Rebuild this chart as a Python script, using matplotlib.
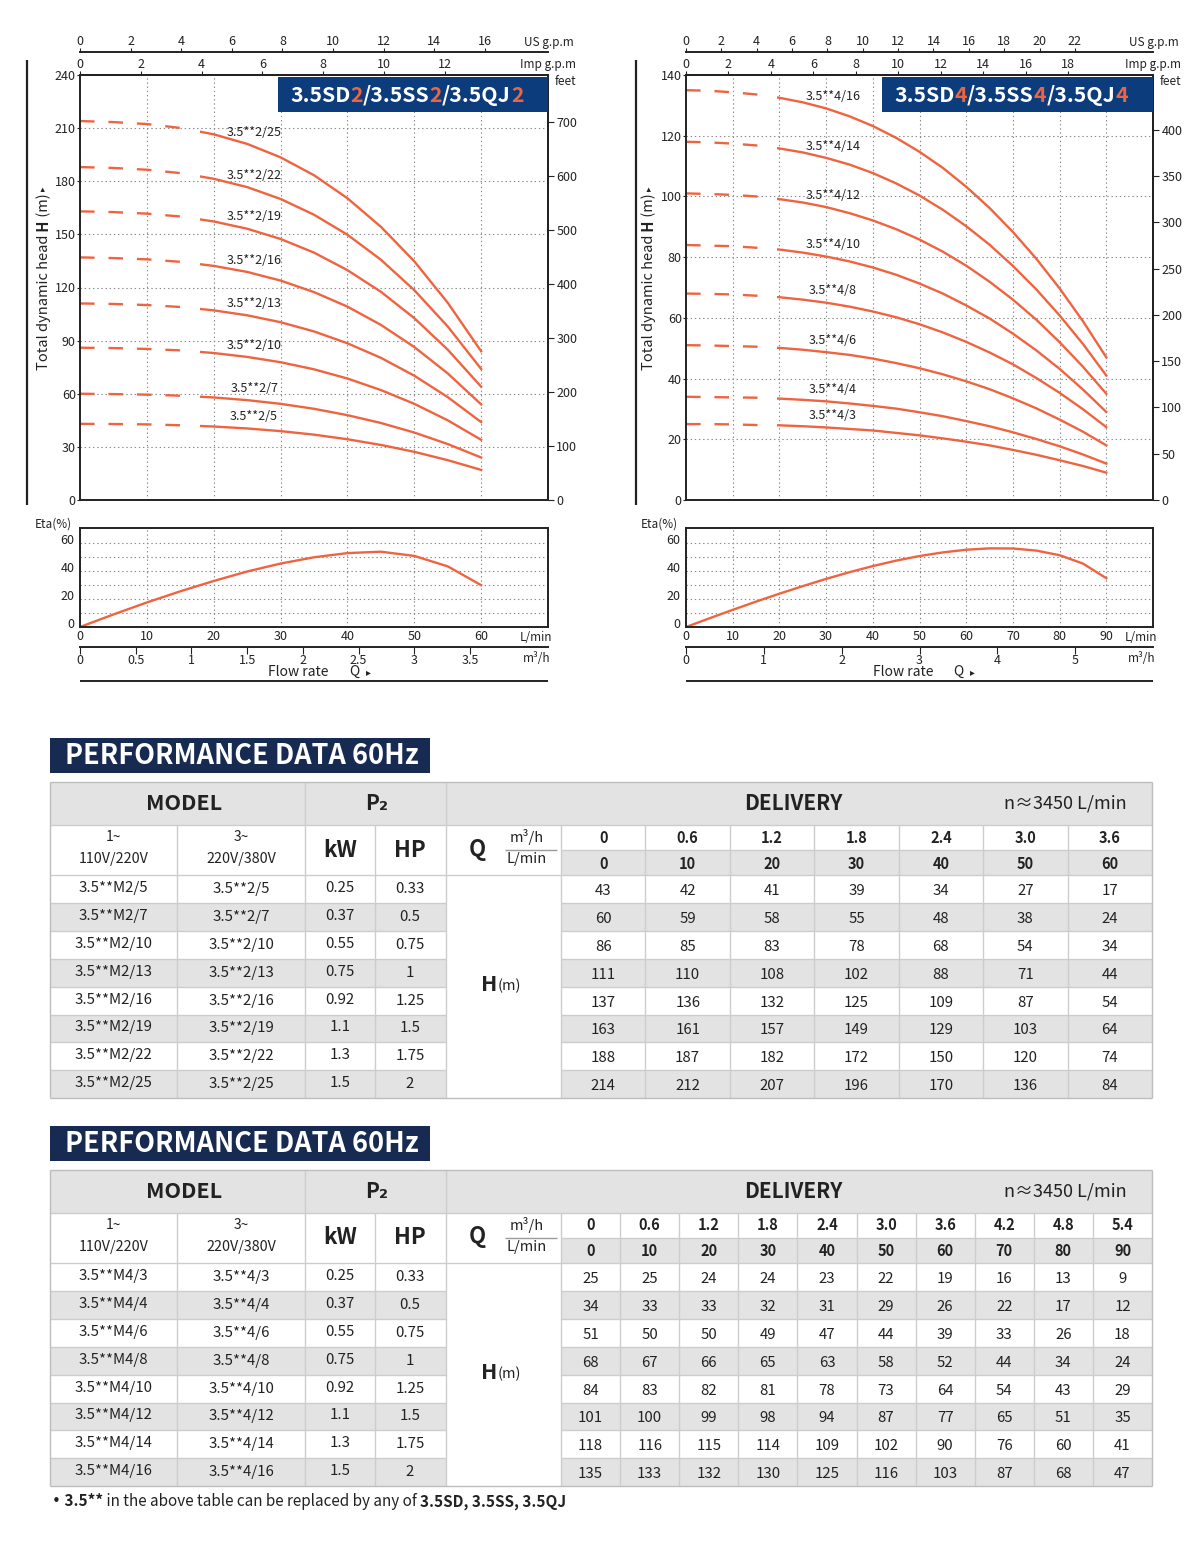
import numpy as np
import matplotlib
matplotlib.use('Agg')
import matplotlib.pyplot as plt
from matplotlib.patches import Rectangle
from matplotlib.transforms import ScaledTranslation

plt.rcParams['font.family'] = ['Noto Sans CJK SC', 'DejaVu Sans']
plt.rcParams['lines.scale_dashes'] = False

W, H = 1200, 1556
ORANGE = '#ef6440'
BLUE = '#0d3c7c'
NAVY = '#172a51'
GRAY = '#e3e3e3'
EDGE = '#cdcdcd'
INK = '#222222'

# ---------------- data: 3.5**2 series ----------------
q_lmin_2 = [0, 10, 20, 30, 40, 50, 60]
q_m3h_2 = ['0', '0.6', '1.2', '1.8', '2.4', '3.0', '3.6']
models1_2 = ['3.5**M2/5', '3.5**M2/7', '3.5**M2/10', '3.5**M2/13',
             '3.5**M2/16', '3.5**M2/19', '3.5**M2/22', '3.5**M2/25']
models3_2 = ['3.5**2/5', '3.5**2/7', '3.5**2/10', '3.5**2/13',
             '3.5**2/16', '3.5**2/19', '3.5**2/22', '3.5**2/25']
kw_2 = ['0.25', '0.37', '0.55', '0.75', '0.92', '1.1', '1.3', '1.5']
hp_2 = ['0.33', '0.5', '0.75', '1', '1.25', '1.5', '1.75', '2']
head_2 = [
    [43, 42, 41, 39, 34, 27, 17],
    [60, 59, 58, 55, 48, 38, 24],
    [86, 85, 83, 78, 68, 54, 34],
    [111, 110, 108, 102, 88, 71, 44],
    [137, 136, 132, 125, 109, 87, 54],
    [163, 161, 157, 149, 129, 103, 64],
    [188, 187, 182, 172, 150, 120, 74],
    [214, 212, 207, 196, 170, 136, 84],
]
# smooth curves, every 5 L/min
curve_q_2 = [0, 5, 10, 15, 20, 25, 30, 35, 40, 45, 50, 55, 60]
curve_h_2 = [
    [43, 42.9, 42.7, 42.2, 41.5, 40.4, 38.9, 36.9, 34.3, 31.1, 27.2, 22.5, 17],
    [60, 59.8, 59.5, 58.9, 57.9, 56.4, 54.3, 51.5, 47.9, 43.5, 38.1, 31.6, 24],
    [86, 85.8, 85.3, 84.5, 83.0, 80.8, 77.8, 73.8, 68.6, 62.1, 54.3, 45.0, 34],
    [111, 110.7, 110.1, 109.0, 107.1, 104.3, 100.4, 95.2, 88.5, 80.3, 70.2, 58.1, 44],
    [137, 136.6, 135.9, 134.5, 132.2, 128.8, 123.9, 117.4, 109.2, 98.9, 86.4, 71.5, 54],
    [163, 162.6, 161.7, 160.1, 157.3, 153.2, 147.4, 139.7, 129.8, 117.6, 102.7, 84.9, 64],
    [188, 187.5, 186.5, 184.6, 181.4, 176.7, 170.0, 161.1, 149.8, 135.7, 118.5, 98.0, 74],
    [214, 213.4, 212.3, 210.1, 206.5, 201.1, 193.5, 183.4, 170.4, 154.3, 134.8, 111.4, 84],
]
eta_q_2 = [0, 5, 10, 15, 20, 25, 30, 35, 40, 45, 50, 55, 60]
eta_2 = [0, 9, 17.6, 25.6, 33, 39.8, 45.5, 50, 53, 54, 51, 43.5, 30]

# ---------------- data: 3.5**4 series ----------------
q_lmin_4 = [0, 10, 20, 30, 40, 50, 60, 70, 80, 90]
q_m3h_4 = ['0', '0.6', '1.2', '1.8', '2.4', '3.0', '3.6', '4.2', '4.8', '5.4']
models1_4 = ['3.5**M4/3', '3.5**M4/4', '3.5**M4/6', '3.5**M4/8',
             '3.5**M4/10', '3.5**M4/12', '3.5**M4/14', '3.5**M4/16']
models3_4 = ['3.5**4/3', '3.5**4/4', '3.5**4/6', '3.5**4/8',
             '3.5**4/10', '3.5**4/12', '3.5**4/14', '3.5**4/16']
kw_4 = ['0.25', '0.37', '0.55', '0.75', '0.92', '1.1', '1.3', '1.5']
hp_4 = ['0.33', '0.5', '0.75', '1', '1.25', '1.5', '1.75', '2']
head_4 = [
    [25, 25, 24, 24, 23, 22, 19, 16, 13, 9],
    [34, 33, 33, 32, 31, 29, 26, 22, 17, 12],
    [51, 50, 50, 49, 47, 44, 39, 33, 26, 18],
    [68, 67, 66, 65, 63, 58, 52, 44, 34, 24],
    [84, 83, 82, 81, 78, 73, 64, 54, 43, 29],
    [101, 100, 99, 98, 94, 87, 77, 65, 51, 35],
    [118, 116, 115, 114, 109, 102, 90, 76, 60, 41],
    [135, 133, 132, 130, 125, 116, 103, 87, 68, 47],
]
# smooth curves, every 5 L/min
curve_q_4 = [0, 5, 10, 15, 20, 25, 30, 35, 40, 45, 50, 55, 60, 65, 70, 75, 80, 85, 90]
curve_h_4 = [
    [25, 25.0, 24.9, 24.7, 24.6, 24.3, 23.9, 23.4, 22.9, 22.1, 21.3, 20.3, 19.2, 18.0, 16.5, 14.9, 13.1, 11.2, 9],
    [34, 33.9, 33.8, 33.7, 33.4, 33.0, 32.5, 31.8, 31.0, 30.1, 28.9, 27.6, 26.0, 24.3, 22.3, 20.1, 17.7, 15.0, 12],
    [51, 50.9, 50.7, 50.5, 50.1, 49.5, 48.7, 47.8, 46.6, 45.1, 43.4, 41.4, 39.1, 36.5, 33.5, 30.2, 26.5, 22.5, 18],
    [68, 67.9, 67.7, 67.3, 66.8, 66.0, 65.0, 63.7, 62.1, 60.2, 57.9, 55.2, 52.1, 48.6, 44.7, 40.2, 35.3, 29.9, 24],
    [84, 83.8, 83.6, 83.1, 82.5, 81.5, 80.2, 78.6, 76.6, 74.2, 71.3, 68.0, 64.1, 59.8, 54.8, 49.3, 43.2, 36.4, 29],
    [101, 100.8, 100.5, 100.0, 99.1, 98.0, 96.5, 94.5, 92.1, 89.2, 85.8, 81.8, 77.2, 71.9, 66.0, 59.4, 52.0, 43.9, 35],
    [118, 117.8, 117.4, 116.8, 115.8, 114.5, 112.7, 110.5, 107.7, 104.3, 100.3, 95.6, 90.2, 84.1, 77.1, 69.4, 60.8, 51.4, 41],
    [135, 134.8, 134.3, 133.6, 132.5, 131.0, 129.0, 126.4, 123.2, 119.3, 114.7, 109.4, 103.2, 96.2, 88.3, 79.5, 69.7, 58.9, 47],
]
eta_q_4 = [0, 5, 10, 15, 20, 25, 30, 35, 40, 45, 50, 55, 60, 65, 70, 75, 80, 85, 90]
eta_4 = [0, 6.2, 12.3, 18.2, 23.9, 29.3, 34.5, 39.3, 43.7, 47.6, 50.9, 53.5, 55.4,
         56.4, 56.3, 54.8, 51.5, 45.5, 35]


def fbox(l, t, w, h):
    return [l / W, 1 - (t + h) / H, w / W, h / H]


fig = plt.figure(figsize=(12, 15.56), dpi=100)


def style_spines(ax, lw=1.4):
    for s in ax.spines.values():
        s.set_linewidth(lw)
        s.set_color(INK)


def head_chart(rect, xmax, ymax, ystep, ftmax, ftstep, impmax, usmax,
               q, curves, names, dash_end, solid_start, lbl_idx):
    ax = fig.add_axes(fbox(*rect))
    ax.set_xlim(0, xmax)
    ax.set_ylim(0, ymax)
    ax.set_xticks(range(10, xmax, 10))
    ax.set_yticks(range(0, ymax + 1, ystep))
    ax.grid(True, ls=(0, (1, 2)), color='#8a8a8a', lw=0.8)
    ax.tick_params(axis='x', bottom=False, labelbottom=False)
    ax.tick_params(axis='y', length=2, pad=1, labelsize=9, colors=INK)
    style_spines(ax)

    feet = ax.secondary_yaxis('right', functions=(lambda m: m / 0.3048, lambda f: f * 0.3048))
    feet.set_yticks(range(0, ftmax + 1, ftstep))
    feet.tick_params(length=4, pad=2, labelsize=9, colors=INK)
    style_spines(feet)

    imp = ax.secondary_xaxis('top', functions=(lambda v: v * 0.219969, lambda g: g / 0.219969))
    imp.set_xticks(range(0, impmax + 1, 2))
    imp.tick_params(length=3, pad=0, labelsize=9, colors=INK)
    style_spines(imp)

    us = ax.secondary_xaxis(1 + 23 / rect[3], functions=(lambda v: v * 0.264172, lambda g: g / 0.264172))
    us.set_xticks(range(0, usmax + 1, 2))
    us.tick_params(length=3, pad=0, labelsize=9, colors=INK)
    style_spines(us)

    for h, name in zip(curves, names):
        dash = ax.plot(q, h, color=ORANGE, lw=1.7, dashes=(10.5, 10))[0]
        dash.set_clip_path(Rectangle((0, 0), dash_end, ymax, transform=ax.transData))
        solid = ax.plot(q, h, color=ORANGE, lw=1.7)[0]
        solid.set_clip_path(Rectangle((solid_start, 0), xmax, ymax, transform=ax.transData))
        ax.annotate(name, xy=(q[lbl_idx], h[lbl_idx]), xytext=(5, 8.5),
                    textcoords='offset points', ha='center', va='center',
                    fontsize=9, color=INK)
    return ax


def eta_chart(rect, xmax, qticks, m3max, m3step, q, eta):
    ax = fig.add_axes(fbox(*rect))
    ax.set_xlim(0, xmax)
    ax.set_ylim(0, 71)
    ax.set_xticks(qticks)
    ax.set_yticks(range(0, 61, 20))
    ax.set_yticks(range(10, 70, 20), minor=True)
    ax.grid(True, which='both', ls=(0, (1, 2)), color='#8a8a8a', lw=0.8)
    ax.tick_params(which='both', length=0, labelsize=9, colors=INK)
    ax.tick_params(axis='y', pad=4)
    ax.tick_params(axis='x', pad=2)
    # labels sit a little above their grid lines
    lift = ScaledTranslation(0, 3 / 72, fig.dpi_scale_trans)
    for lab in ax.get_yticklabels():
        lab.set_transform(lab.get_transform() + lift)
    style_spines(ax)
    ax.plot(q, eta, color=ORANGE, lw=1.7)

    m3 = ax.secondary_xaxis(-20 / rect[3], functions=(lambda v: v * 0.06, lambda m: m / 0.06))
    m3.set_xticks(np.arange(0, m3max + 0.01, m3step))
    m3.xaxis.set_major_formatter(lambda v, p: f'{v:g}')
    m3.tick_params(length=5, pad=0, labelsize=9, colors=INK)
    style_spines(m3)
    return ax


head_chart((80, 75, 468, 425), 70, 240, 30, 700, 100, 12, 16,
           curve_q_2, curve_h_2, models3_2, 15.7, 17.9, 5)
head_chart((686, 75, 467, 425), 100, 140, 20, 400, 50, 18, 22,
           curve_q_4, curve_h_4, models3_4, 15.6, 19.4, 6)
eta_chart((80, 528, 468, 99), 70, range(0, 61, 10), 3.5, 0.5, eta_q_2, eta_2)
eta_chart((686, 528, 467, 99), 100, range(0, 91, 10), 5, 1, eta_q_4, eta_4)

# ---------------- overlay in pixel coordinates ----------------
ov = fig.add_axes([0, 0, 1, 1])
ov.set_xlim(0, W)
ov.set_ylim(H, 0)
ov.set_axis_off()
ov.patch.set_visible(False)


def rect(x, y, w, h, color):
    ov.add_patch(Rectangle((x, y), w, h, facecolor=color, edgecolor='none'))


def hline(y, x0, x1, color=EDGE, lw=1.0):
    ov.plot([x0, x1], [y, y], color=color, lw=lw, solid_capstyle='butt')


def vline(x, y0, y1, color=EDGE, lw=1.0):
    ov.plot([x, x], [y0, y1], color=color, lw=lw, solid_capstyle='butt')


def txt(x, y, s, size=10, weight='normal', color=INK, ha='center', va='center', **kw):
    return ov.text(x, y, s, fontsize=size, fontweight=weight, color=color, ha=ha, va=va, **kw)


def rich(x, y, parts, size):
    prev = None
    for part in parts:
        s, color, weight = part[:3]
        extra = {'family': part[3]} if len(part) > 3 else {}
        if prev is None:
            prev = ov.text(x, y, s, fontsize=size, fontweight=weight, color=color,
                           ha='left', va='center', **extra)
        else:
            prev = ov.annotate(s, xy=(1, 0), xycoords=prev, fontsize=size, fontweight=weight,
                               color=color, ha='left', va='bottom', **extra)
    return prev


def ylabel(x, y):
    kw = dict(rotation=90, fontsize=10.5, color=INK)
    t = ov.text(x, y, 'Total dynamic head', ha='center', va='bottom', **kw)
    t = ov.annotate(' H', xy=(0.5, 1), xycoords=t, ha='center', va='bottom', fontweight='bold', **kw)
    t = ov.annotate(' (m)', xy=(0.5, 1), xycoords=t, ha='center', va='bottom', **kw)
    ov.annotate(' ▸', xy=(0.5, 1), xycoords=t, ha='center', va='bottom', rotation=90,
                fontsize=6.5, color=INK)


# chart decorations
for x0, x1, bar, tb, digit in [(80, 548, 27, 278, '2'), (686, 1153, 636, 882, '4')]:
    vline(bar, 60, 505, color=INK, lw=1.6)
    rect(tb, 77, x1 - tb, 35, BLUE)
    rich(tb + 12, 95, [('3.5SD', 'white', 'bold'), (digit, ORANGE, 'bold'),
                       ('/3.5SS', 'white', 'bold'), (digit, ORANGE, 'bold'),
                       ('/3.5QJ', 'white', 'bold'), (digit, ORANGE, 'bold')], 15.3)
    txt(x1 + 26, 42, 'US g.p.m', 8.5, ha='right')
    txt(x1 + 28, 64, 'Imp g.p.m', 8.5, ha='right')
    txt(x1 + 28, 81, 'feet', 8.5, ha='right')
    txt(x0 - 45, 524, 'Eta(%)', 8.5, ha='left')
    txt(x1 - 12, 637, 'L/min', 8.5)
    txt(x1 - 11, 658, 'm³/h', 8.5)
    hline(681, x0, x1, color=INK, lw=1.4)

ylabel(44, 370)
ylabel(649, 370)
for fx, qx, ax_ in [(268, 349, 366), (873, 953, 970)]:
    txt(fx, 672, 'Flow rate', 10, ha='left')
    txt(qx, 672, 'Q', 10, ha='left')
    txt(ax_, 672, '▸', 7, ha='left')


# ---------------- tables ----------------
def perf_table(top, q_m3h, q_lmin, m1, m3, kw, hp, heads):
    n = len(q_lmin)
    dx = (1152 - 561) / n
    dcols = [561 + i * dx for i in range(n + 1)]
    hdr, qh, rh = 43, 25, 27.9
    yq1 = top + hdr
    yq2 = yq1 + qh
    yd = yq2 + qh
    bot = yd + rh * len(heads)

    # title bar
    rect(50, top - 44, 380, 35, NAVY)
    txt(65, top - 26.5, 'PERFORMANCE DATA 60Hz', 19.5, 'bold', 'white', ha='left')

    # fills
    rect(50, top, 1102, hdr, GRAY)
    rect(561, yq2, 591, qh, GRAY)
    for i in range(len(heads)):
        if i % 2:
            rect(50, yd + i * rh, 396, rh, GRAY)
            rect(561, yd + i * rh, 591, rh, GRAY)

    # grid lines
    hline(yq1, 50, 1152)
    hline(yq2, 561, 1152)
    hline(yd, 50, 1152)
    for i in range(1, len(heads)):
        hline(yd + i * rh, 50, 446)
        hline(yd + i * rh, 561, 1152)
    for x in (305, 446):
        vline(x, top, bot)
    for x in (177, 375, 561):
        vline(x, yq1, bot)
    for x in dcols[1:-1]:
        vline(x, yq1, bot)
    hline(yq2, 505, 557, color='#9a9a9a')
    for y in (top, bot):
        hline(y, 50, 1152, color='#bdbdbd')
    for x in (50, 1152):
        vline(x, top, bot, color='#bdbdbd')

    # header texts
    txt(184, top + hdr / 2, 'MODEL', 15.5, 'bold')
    txt(377, top + hdr / 2, 'P₂', 15, 'bold')
    txt(793, top + hdr / 2, 'DELIVERY', 15, 'bold')
    txt(1065, top + hdr / 2, 'n≈3450 L/min', 13)
    txt(113.5, yq1 + 12, '1~', 10)
    txt(113.5, yq1 + 34, '110V/220V', 10.3)
    txt(241, yq1 + 12, '3~', 10)
    txt(241, yq1 + 34, '220V/380V', 10.3)
    txt(340, yq1 + 25, 'kW', 16, 'bold')
    txt(410, yq1 + 25, 'HP', 16, 'bold')
    txt(477, yq1 + 24, 'Q', 16, 'bold')
    txt(527, yq1 + 12, 'm³/h', 10.5)
    txt(527, yq1 + 34, 'L/min', 10.5)
    for j in range(n):
        cx = (dcols[j] + dcols[j + 1]) / 2
        txt(cx, yq1 + qh / 2, q_m3h[j], 10.5, 'bold')
        txt(cx, yq2 + qh / 2 + 1, str(q_lmin[j]), 10.5, 'bold')

    # body
    hy = (yd + bot) / 2
    txt(497, hy + 4, 'H', 15.5, 'bold', ha='right', va='baseline')
    txt(498, hy + 4, '(m)', 10.5, ha='left', va='baseline')
    for i in range(len(heads)):
        cy = yd + i * rh + rh / 2
        txt(113.5, cy - 1, m1[i], 10.8)
        txt(241, cy, m3[i], 10.8)
        txt(340, cy - 1, kw[i], 10.8)
        txt(410, cy, hp[i], 10.8)
        for j in range(n):
            txt((dcols[j] + dcols[j + 1]) / 2, cy + 2, str(heads[i][j]), 10.8)


perf_table(782, q_m3h_2, q_lmin_2, models1_2, models3_2, kw_2, hp_2, head_2)
perf_table(1170, q_m3h_4, q_lmin_4, models1_4, models3_4, kw_4, hp_4, head_4)

rich(52, 1502, [('•', INK, 'normal', 'DejaVu Sans'), (' 3.5**', INK, 'bold'),
                (' in the above table can be replaced by any of ', INK, 'normal'),
                ('3.5SD, 3.5SS, 3.5QJ', INK, 'bold')], 11)

fig.savefig('out.png', dpi=100, facecolor='white')
